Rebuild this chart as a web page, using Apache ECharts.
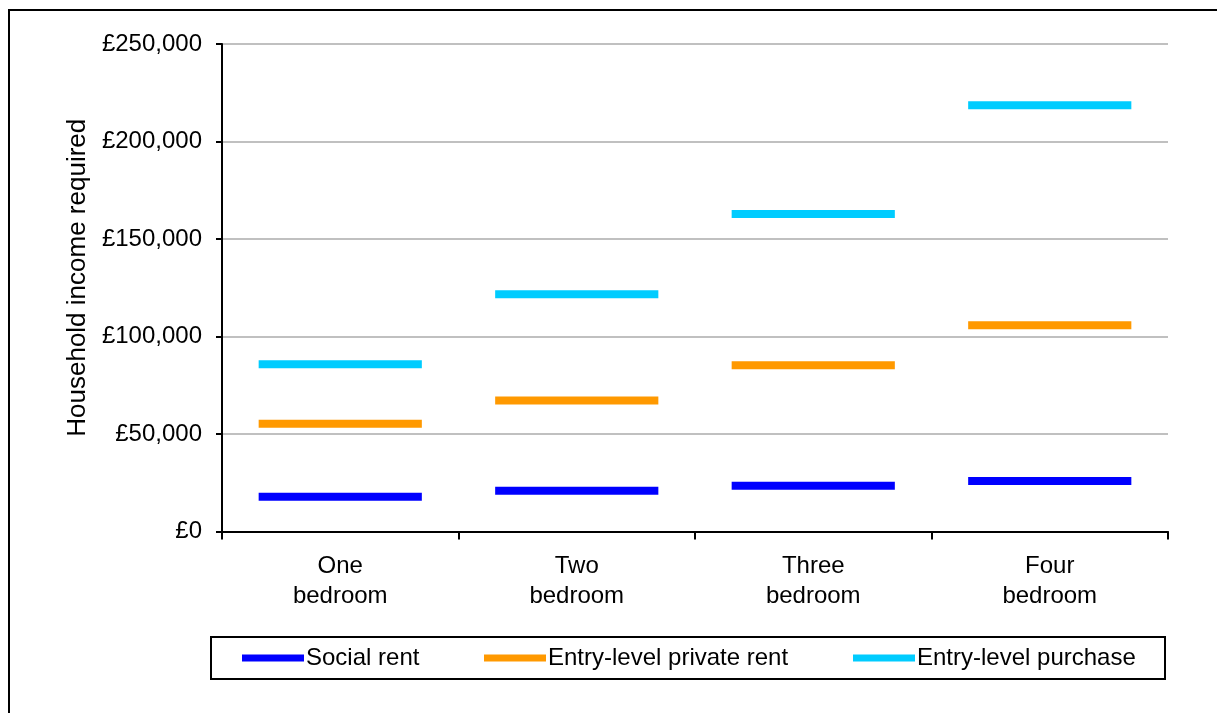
<!DOCTYPE html>
<html>
<head>
<meta charset="utf-8">
<script src="https://cdn.jsdelivr.net/npm/echarts@6/dist/echarts.min.js"></script>
<style>
html,body{margin:0;padding:0;background:#fff;}
#chart{width:1217px;height:713px;}
</style>
</head>
<body>
<div id="chart"></div>
<script>
const categories = ['One\nbedroom', 'Two\nbedroom', 'Three\nbedroom', 'Four\nbedroom'];
const seriesNames = ['Social rent', 'Entry-level private rent', 'Entry-level purchase'];
const socialRent = [17800, 20900, 23500, 25900];
const privateRent = [55200, 67200, 85300, 105800];
const purchase = [85800, 121700, 162800, 218600];
const yTicks = { min: 0, max: 250000, interval: 50000 };
const colors = ['#0000ff', '#ff9900', '#00ccff'];

const FONT = "'Liberation Sans', Arial, sans-serif";

function fmtMoney(v) {
  return '£' + String(v).replace(/\B(?=(\d{3})+(?!\d))/g, ',');
}

function renderSeg(params, api) {
  const c = api.coord([api.value(0), api.value(1)]);
  const bw = api.size([1, 0])[0];
  const w = bw * 0.69;
  const h = 8;
  return {
    type: 'rect',
    shape: { x: c[0] - w / 2, y: c[1] - h / 2, width: w, height: h },
    style: { fill: api.visual('color') }
  };
}

function mkSeries(name, vals, color) {
  return {
    name: name,
    type: 'custom',
    renderItem: renderSeg,
    itemStyle: { color: color },
    encode: { x: 0, y: 1 },
    data: vals.map((v, i) => [i, v])
  };
}

const chart = echarts.init(document.getElementById('chart'), null, { renderer: 'canvas' });
const legendTextStyle = { fontFamily: FONT, fontSize: 24, color: '#000', padding: [0, 0, 0, -3] };
const legendLefts = [237, 479, 848];

chart.setOption({
  animation: false,
  backgroundColor: '#fff',
  textStyle: { fontFamily: FONT },
  grid: { left: 222, right: 49, top: 44, bottom: 181.5, containLabel: false },
  graphic: [
    { type: 'rect', shape: { x: 9, y: 10, width: 1400, height: 900 }, style: { fill: 'none', stroke: '#000', lineWidth: 2 }, silent: true },
    { type: 'rect', shape: { x: 211, y: 637, width: 954, height: 42 }, style: { fill: 'none', stroke: '#000', lineWidth: 2 }, silent: true }
  ],
  legend: seriesNames.map((n, i) => ({
    data: [n],
    left: legendLefts[i],
    top: 641,
    icon: 'rect',
    itemWidth: 62,
    itemHeight: 7,
    textStyle: legendTextStyle,
    selectedMode: false
  })),
  xAxis: {
    type: 'category',
    data: categories,
    boundaryGap: true,
    axisLine: { lineStyle: { color: '#000', width: 2 } },
    axisTick: { show: true, length: 8, inside: false, lineStyle: { color: '#000', width: 2 } },
    axisLabel: { color: '#000', fontSize: 24, lineHeight: 30, margin: 20, fontFamily: FONT, interval: 0 },
    splitLine: { show: false }
  },
  yAxis: {
    type: 'value',
    min: yTicks.min,
    max: yTicks.max,
    interval: yTicks.interval,
    name: 'Household income required',
    nameLocation: 'middle',
    nameRotate: 90,
    nameGap: 127,
    nameTextStyle: { color: '#000', fontSize: 26, fontFamily: FONT, padding: [0, 0, 0, 20] },
    axisLine: { show: true, lineStyle: { color: '#000', width: 2 } },
    axisTick: { show: true, length: 6, lineStyle: { color: '#000', width: 2 } },
    axisLabel: { color: '#000', fontSize: 24, margin: 20, fontFamily: FONT, formatter: fmtMoney },
    splitLine: { show: true, lineStyle: { color: '#c0c0c0', width: 2 } }
  },
  series: [
    mkSeries(seriesNames[0], socialRent, colors[0]),
    mkSeries(seriesNames[1], privateRent, colors[1]),
    mkSeries(seriesNames[2], purchase, colors[2])
  ]
});
</script>
</body>
</html>
